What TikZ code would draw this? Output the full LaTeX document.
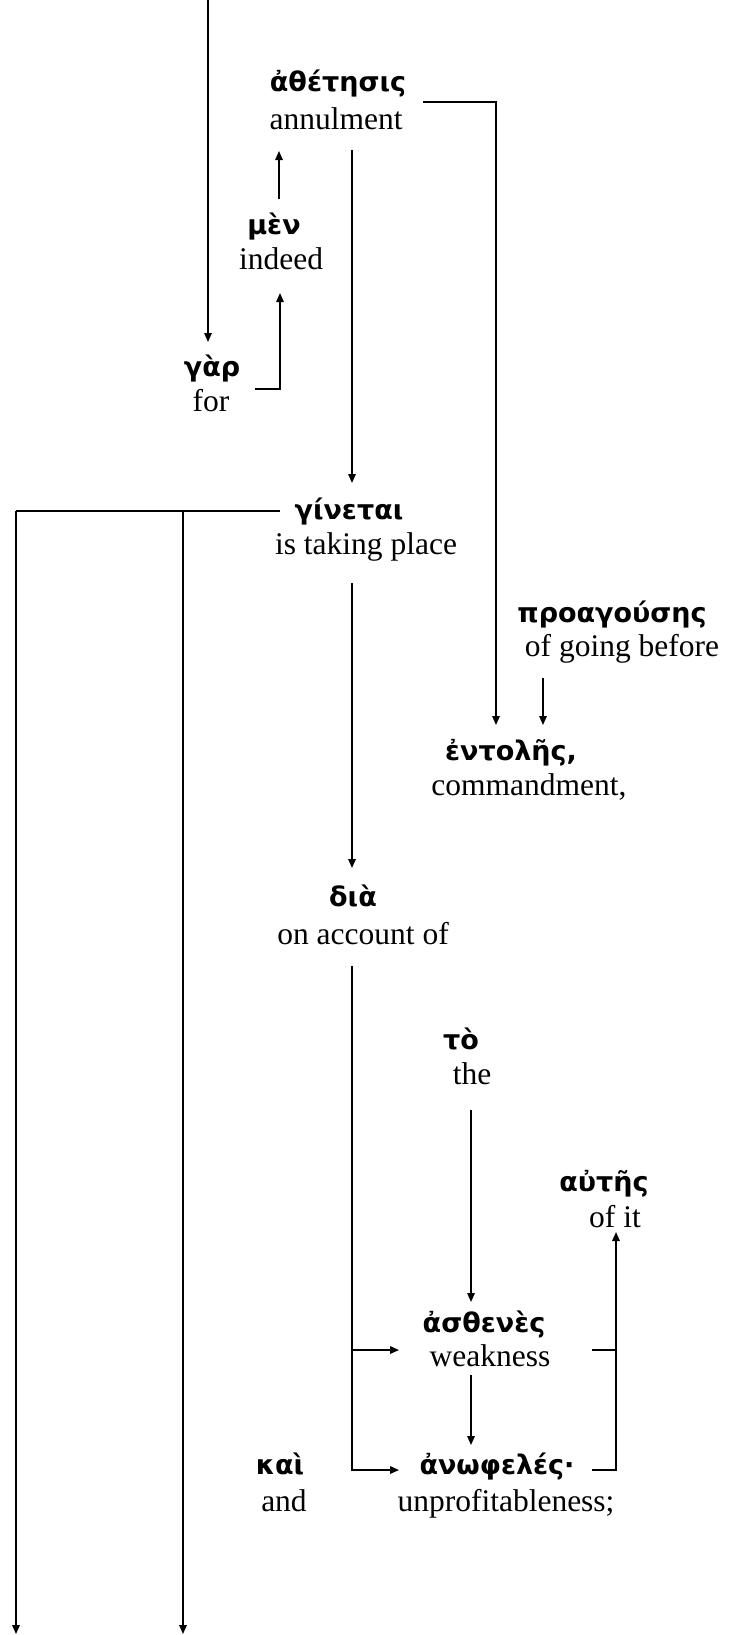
\documentclass[tikz,border=0pt]{standalone}
\usepackage{fontspec}
\setmainfont{Liberation Serif}
\newfontfamily\grk{DejaVu Sans}
\usetikzlibrary{arrows.meta}
\begin{document}
\begin{tikzpicture}[x=1pt,y=-1pt,
  gk/.style={font=\grk\bfseries\fontsize{27}{30}\selectfont, inner sep=0pt, anchor=base},
  en/.style={font=\fontsize{31.5}{36}\selectfont, inner sep=0pt, anchor=base},
  ln/.style={line width=1.5pt},
  arr/.style={ln, -{Triangle[length=9pt,width=7.5pt]}}]
\useasboundingbox (0,0) rectangle (735,1635);

% words
\node[gk] (g-ath) at (338,92) {ἀθέτησις};
\node[en] (e-ath) at (336,129) {annulment};
\node[gk] (g-men) at (274,234) {μὲν};
\node[en] (e-men) at (281,269) {indeed};
\node[gk] (g-gar) at (212,376) {γὰρ};
\node[en] (e-gar) at (211,411) {for};
\node[gk] (g-gin) at (349,519) {γίνεται};
\node[en] (e-gin) at (366,554) {is taking place};
\node[gk] (g-pro) at (612,622) {προαγούσης};
\node[en] (e-pro) at (622,656) {of going before};
\node[gk] (g-ent) at (511,760) {ἐντολῆς,};
\node[en] (e-ent) at (529,795) {commandment,};
\node[gk] (g-dia) at (353,906) {διὰ};
\node[en] (e-dia) at (363,944) {on account of};
\node[gk] (g-to) at (461,1049) {τὸ};
\node[en] (e-to) at (472,1084) {the};
\node[gk] (g-aut) at (604,1191) {αὐτῆς};
\node[en] (e-aut) at (615,1227) {of it};
\node[gk] (g-ast) at (484,1332) {ἀσθενὲς};
\node[en] (e-ast) at (490,1366) {weakness};
\node[gk] (g-kai) at (280,1474) {καὶ};
\node[en] (e-kai) at (284,1511) {and};
\node[gk] (g-anw) at (497,1474) {ἀνωφελές·};
\node[en] (e-anw) at (506,1511) {unprofitableness;};

% connector end points
\coordinate (top) at (208,0);
\coordinate (gar-in) at (208,342);
\coordinate (gar-out) at (255,389);
\coordinate (men-in) at (280,293);
\coordinate (men-out) at (279,199);
\coordinate (ath-in) at (279,151);
\coordinate (ath-r) at (423,102);
\coordinate (ath-d) at (352,150);
\coordinate (gin-in) at (352,483);
\coordinate (gin-l) at (280,511);
\coordinate (gin-d) at (352,583);
\coordinate (bot1) at (16,1634);
\coordinate (bot2) at (183,1634);
\coordinate (ent-in1) at (496,725);
\coordinate (pro-d) at (543,678);
\coordinate (ent-in2) at (543,725);
\coordinate (dia-in) at (352,868);
\coordinate (dia-d) at (352,966);
\coordinate (ast-in) at (399,1350);
\coordinate (anw-in) at (399,1470);
\coordinate (to-d) at (471,1110);
\coordinate (ast-top) at (471,1302);
\coordinate (ast-d) at (471,1375);
\coordinate (anw-top) at (471,1445);
\coordinate (ast-r) at (592,1350);
\coordinate (anw-r) at (592,1470);
\coordinate (aut-in) at (616,1232);

% connectors
\draw[arr] (top) -- (gar-in);
\draw[arr] (gar-out) -| (men-in);
\draw[arr] (men-out) -- (ath-in);
\draw[arr] (ath-r) -| (ent-in1);
\draw[arr] (ath-d) -- (gin-in);
\draw[ln] (gin-l) -- (gin-l -| bot1);
\draw[arr] (gin-l -| bot1) -- (bot1);
\draw[arr] (gin-l -| bot2) -- (bot2);
\draw[arr] (gin-d) -- (dia-in);
\draw[arr] (pro-d) -- (ent-in2);
\draw[arr] (dia-d) |- (anw-in);
\draw[arr] (dia-d |- ast-in) -- (ast-in);
\draw[arr] (to-d) -- (ast-top);
\draw[arr] (ast-d) -- (anw-top);
\draw[ln] (ast-r) -- (ast-r -| aut-in);
\draw[arr] (anw-r) -| (aut-in);
\end{tikzpicture}
\end{document}
